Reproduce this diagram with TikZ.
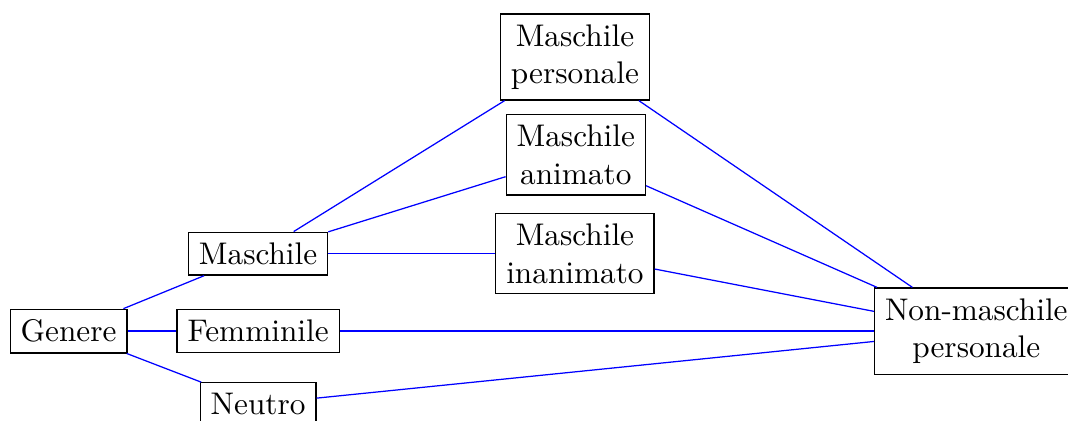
\documentclass[tikz,border=0pt]{standalone}
\usepackage{tikz}
\usetikzlibrary{positioning}
\tikzset{
  cat/.style={draw=black,align=center},
  link/.style={draw=blue,line width=0.4pt}
}
\begin{document}
\begin{tikzpicture}
  \useasboundingbox (-0.77,-1.01) rectangle (11.23,3.72);
  \node[cat] (genere) at (0,0) {Genere};
  \node[cat] (masc) at (2.13,0.87) {Maschile};
  \node[cat] (femm) at (2.13,0) {Femminile};
  \node[cat] (neutro) at (2.13,-0.82) {Neutro};
  \node[cat] (mpers) at (5.69,3.08) {Maschile\\personale};
  \node[cat] (manim) at (5.70,1.98) {Maschile\\animato};
  \node[cat] (minan) at (5.69,0.87) {Maschile\\inanimato};
  \node[cat] (nonm) at (10.2,0) {Non-maschile\\personale};

  \draw[link] (genere) -- (masc);
  \draw[link] (genere) -- (femm);
  \draw[link] (genere) -- (neutro);
  \draw[link] (masc) -- (mpers);
  \draw[link] (masc) -- (manim);
  \draw[link] (masc) -- (minan);
  \draw[link] (mpers) -- (nonm);
  \draw[link] (manim) -- (nonm);
  \draw[link] (minan) -- (nonm);
  \draw[link] (femm) -- (nonm);
  \draw[link] (neutro) -- (nonm);
\end{tikzpicture}
\end{document}
